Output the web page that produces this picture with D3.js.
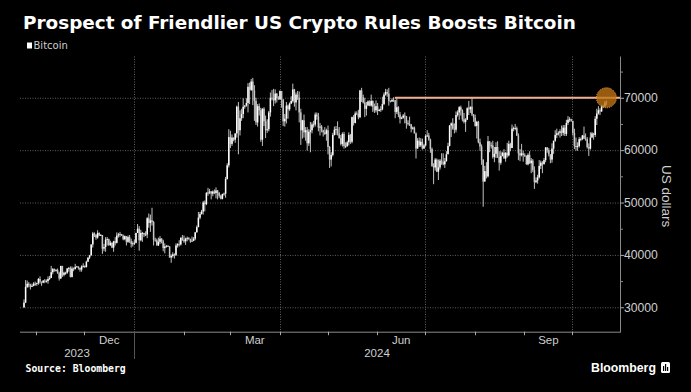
<!DOCTYPE html>
<html>
<head>
<meta charset="utf-8">
<script src="https://cdn.jsdelivr.net/npm/d3@7"></script>
<style>
  html, body { margin: 0; padding: 0; background: #000; }
  svg { display: block; }
</style>
</head>
<body>
<svg id="chart" width="691" height="392"></svg>
<script>
// ---------------- DATA (daily candles, values in thousands of US dollars) ----------------
const startDate = "2023-10-23";   // first candle
const firstOpen = 30.0;           // open of the first candle (later opens = previous close)

const close = [
  // Oct 23-31 2023
  30.9,33.9,34.5,34.2,33.9,34.1,34.5,34.5,34.6,
  // Nov 2023
  35.4,34.9,34.7,35.1,35.0,35.0,35.4,35.6,36.7,37.3,37.1,37.1,36.5,35.5,37.9,36.2,36.6,36.6,37.4,37.5,
  35.8,37.4,37.3,37.7,37.8,37.5,37.2,37.8,37.9,37.7,
  // Dec 2023
  38.7,39.5,39.9,42.0,44.1,43.8,43.3,44.2,43.7,43.8,41.2,41.5,42.9,43.0,41.9,42.3,41.4,42.6,42.3,43.7,
  43.9,44.0,43.7,43.0,43.6,42.5,43.4,42.6,42.1,42.2,42.3,
  // Jan 2024
  44.2,45.0,42.8,44.2,44.2,43.9,43.9,47.0,46.1,46.6,46.3,42.9,42.8,41.8,42.5,43.1,42.6,41.3,41.6,41.7,
  41.6,39.5,39.8,40.1,40.0,41.8,42.1,42.0,43.3,42.9,42.6,
  // Feb 2024
  43.1,43.2,43.0,42.6,42.7,43.1,44.3,45.3,47.1,47.8,48.3,50.0,49.7,51.8,51.9,52.1,51.7,52.1,51.8,52.3,
  51.8,51.3,50.7,51.6,51.7,54.5,57.1,62.5,61.2,
  // Mar 2024
  62.4,62.0,63.2,68.3,63.8,66.1,66.9,68.3,68.5,69.0,72.1,71.5,73.1,71.4,69.4,65.3,68.4,67.6,62.0,67.9,
  65.5,63.8,64.0,67.2,70.0,69.9,69.5,70.8,69.9,69.7,71.3,
  // Apr 2024
  69.7,65.5,66.0,68.5,67.8,68.9,69.4,71.6,69.1,70.6,70.0,67.2,63.8,65.7,63.4,63.8,61.3,63.5,63.8,64.9,
  64.9,66.8,66.4,64.3,64.5,63.8,63.4,63.1,63.8,60.6,
  // May 2024
  58.2,59.1,62.9,63.9,64.0,63.2,62.3,61.2,63.1,60.8,60.8,61.5,62.9,61.6,66.3,65.2,67.0,66.9,66.3,71.4,
  70.1,69.1,67.9,68.5,69.3,68.5,69.4,68.3,67.6,68.4,67.5,
  // Jun 2024
  67.7,67.8,68.8,70.6,71.1,70.8,69.4,69.3,69.6,69.5,67.3,68.2,66.8,66.0,66.2,66.6,66.5,65.2,65.0,64.9,
  64.1,64.3,63.2,60.3,61.8,60.9,61.6,60.3,60.9,62.7,
  // Jul 2024
  62.8,62.0,60.2,57.0,56.7,58.2,55.9,56.7,58.0,57.7,57.3,57.9,59.2,60.8,64.7,65.1,64.1,63.9,66.7,67.2,
  68.2,67.6,65.9,65.4,65.8,68.0,67.8,68.3,66.8,66.2,64.6,
  // Aug 2024
  65.4,61.5,60.7,58.1,54.0,56.0,55.0,61.7,60.9,60.9,58.7,59.3,60.6,58.7,57.6,58.9,59.5,58.4,59.5,59.0,
  61.2,60.4,64.1,64.2,64.2,62.8,59.4,59.0,59.4,59.1,58.9,
  // Sep 2024
  57.3,59.1,57.5,58.0,56.2,53.9,54.2,54.8,57.0,57.6,57.3,58.1,60.5,60.0,59.2,58.2,60.3,61.8,62.9,63.2,
  63.3,63.6,63.3,64.3,63.1,65.2,65.8,65.9,65.6,63.3,
  // Oct 1-21 2024
  60.8,60.6,60.8,62.1,62.1,62.8,62.2,62.1,60.6,60.3,62.4,63.2,62.9,66.0,67.0,67.6,67.4,68.4,68.4,69.0,
  69.2
];

const high = [
  31.5,35.2,35.1,34.8,34.5,34.5,34.8,34.9,34.7,
  35.6,35.9,34.9,35.2,35.4,35.3,35.9,36.0,37.9,37.5,37.4,37.3,37.4,36.8,37.9,37.9,36.8,36.8,37.5,37.7,
  37.8,37.8,37.6,38.3,37.9,37.8,37.6,38.0,38.4,38.0,
  38.9,39.5,40.0,42.0,44.4,44.3,44.0,44.7,44.3,44.0,43.8,42.1,43.4,43.4,43.1,42.7,42.4,42.7,43.4,44.3,
  44.2,44.4,44.0,43.9,43.7,43.5,43.7,43.8,43.1,42.6,42.9,
  44.2,45.9,45.5,44.8,44.4,44.2,44.5,47.2,47.9,47.7,49.0,46.5,43.3,43.1,43.3,43.6,43.2,42.9,42.2,41.9,
  41.9,41.7,40.1,40.5,40.3,42.2,42.2,42.8,43.3,43.8,43.7,
  43.3,43.5,43.4,43.1,43.5,43.4,44.4,45.6,48.2,48.2,48.6,50.3,50.4,52.0,52.8,52.6,52.2,52.3,52.5,52.9,
  52.4,52.0,51.5,51.7,51.9,54.9,57.5,64.0,63.7,
  63.0,62.4,63.2,68.5,69.2,67.6,67.9,69.9,68.6,69.9,72.8,72.9,73.6,73.8,72.4,70.0,68.8,68.9,68.1,68.0,
  68.2,66.6,65.9,67.5,71.0,71.5,71.7,71.6,70.9,70.3,71.4,
  71.3,69.7,66.9,69.2,68.7,69.1,70.3,72.7,71.7,71.0,71.3,71.2,67.9,65.8,66.8,64.4,64.4,64.0,65.4,65.3,
  65.6,67.2,67.2,67.1,65.2,64.8,63.9,64.4,64.1,64.7,
  60.8,59.6,63.3,64.5,64.6,65.5,64.4,62.9,63.4,63.5,61.5,61.8,63.4,63.1,66.4,66.7,67.4,67.4,67.7,71.5,
  71.9,70.6,70.0,69.2,69.5,69.5,70.6,69.5,68.9,69.5,69.0,
  67.9,68.4,70.2,71.0,71.7,71.6,71.9,69.5,69.9,70.1,69.6,69.9,68.4,67.3,66.4,66.9,67.2,66.5,65.7,66.4,
  65.0,64.5,64.5,63.4,62.3,62.4,62.3,62.2,61.2,63.0,
  63.8,63.3,62.2,60.5,57.5,58.5,58.4,58.2,58.3,59.4,59.4,58.5,59.8,61.4,64.8,65.3,66.1,65.1,67.4,67.6,
  68.4,68.5,67.8,67.1,66.1,68.2,69.4,68.3,70.0,66.9,66.8,
  65.6,65.6,62.2,61.1,58.3,57.0,57.7,62.7,61.7,61.5,61.8,60.6,61.5,61.7,59.8,59.8,59.7,60.2,59.6,61.4,
  61.8,61.4,64.9,64.5,65.0,64.5,63.2,60.2,61.2,59.9,59.4,
  59.0,59.4,59.8,58.5,58.3,56.9,54.8,55.3,58.1,58.0,57.9,58.5,60.6,60.6,60.4,59.2,61.3,61.8,63.8,64.1,
  63.6,64.0,64.7,64.8,64.8,65.8,66.5,66.3,66.0,65.6,
  64.1,62.4,61.5,62.5,62.4,62.9,64.5,63.2,62.5,61.3,63.4,63.5,63.3,66.5,67.9,68.4,68.0,68.7,68.6,69.4,
  69.5
];

const low = [
  29.9,30.8,33.7,33.8,33.4,33.9,34.0,34.1,34.1,
  34.3,34.5,34.1,34.6,34.6,34.7,34.5,35.2,35.6,36.3,36.8,36.8,36.4,35.1,35.4,35.8,35.9,36.2,36.4,36.8,
  35.7,35.7,36.9,37.2,37.6,37.2,36.8,36.8,37.6,37.5,
  37.6,38.7,39.2,39.9,41.4,43.4,42.9,43.1,43.6,43.6,40.2,40.7,40.6,41.8,41.7,41.7,41.3,40.6,41.8,42.2,
  43.3,43.4,43.6,42.8,42.8,41.8,42.3,42.3,41.4,41.6,41.9,
  42.2,44.2,40.8,42.6,42.5,43.4,43.6,43.2,45.2,44.4,45.6,41.8,42.5,41.8,41.7,42.1,42.2,40.7,40.3,41.4,
  41.5,39.5,38.5,39.5,39.3,39.8,41.4,41.6,41.8,42.7,42.3,
  41.9,42.6,42.9,42.3,42.5,42.6,42.8,44.3,45.3,46.8,47.7,47.7,48.3,49.5,51.3,51.6,50.6,51.2,51.6,50.8,
  50.6,50.9,50.6,50.6,51.3,50.9,54.4,56.7,60.4,
  60.8,61.7,61.4,62.4,59.2,62.8,65.6,66.1,67.9,68.3,67.2,68.8,71.3,68.6,65.6,64.8,64.5,66.6,61.6,60.8,
  64.6,62.3,63.3,63.6,66.4,69.5,68.4,68.9,69.1,69.6,69.6,
  68.1,64.6,64.5,65.1,66.0,67.5,68.8,69.1,68.3,67.6,69.6,65.3,61.0,62.2,62.4,61.8,59.9,60.8,59.6,63.2,
  64.3,64.5,65.8,63.6,62.8,63.4,62.6,62.9,61.8,59.2,
  56.6,56.9,58.8,62.8,62.9,62.8,62.2,60.9,60.7,60.3,60.4,60.6,60.9,61.2,61.3,64.7,65.1,66.7,65.9,66.1,
  69.2,68.9,66.3,66.6,68.5,68.4,68.3,67.3,67.1,67.2,66.7,
  67.4,67.3,67.6,68.6,70.4,70.2,68.5,69.1,69.2,69.2,66.1,66.9,66.3,65.1,65.9,66.0,65.1,64.1,64.7,64.6,
  63.4,63.9,63.2,58.4,60.3,60.6,60.6,60.1,60.3,60.7,
  62.5,61.8,59.5,56.8,53.5,56.1,55.8,54.3,56.3,57.2,57.1,56.6,57.8,59.3,60.7,62.5,63.9,63.2,63.4,66.4,
  65.8,66.6,65.5,65.1,63.5,65.8,66.7,67.1,66.5,65.4,64.5,
  62.2,61.3,59.9,57.2,49.2,54.0,54.6,54.8,59.6,60.3,58.4,57.7,58.5,58.5,56.1,57.2,58.8,58.4,57.8,58.6,
  58.8,59.8,60.4,63.6,63.8,62.7,58.1,57.9,58.8,57.8,58.7,
  57.2,57.1,57.4,55.6,55.8,52.6,53.7,53.6,54.6,56.4,55.6,57.3,57.7,59.5,58.8,57.5,57.6,59.3,61.6,62.3,
  62.8,62.4,62.7,62.8,62.7,62.7,64.8,65.4,65.4,62.8,
  60.2,59.9,59.9,60.5,61.7,61.9,62.1,61.8,60.3,58.9,60.1,62.4,62.0,62.5,64.8,66.8,66.7,67.3,68.1,68.2,
  68.6
];

const yTicks = [30000, 40000, 50000, 60000, 70000];
const yMinorTicks = [35000, 45000, 55000, 65000, 75000];
const monthLabelNames = ["Dec", "Mar", "Jun", "Sep"];
const monthLabelMonths = ["2023-12", "2024-03", "2024-06", "2024-09"];
const yearLabels = ["2023", "2024"];
const quarterGridDates = ["2024-01-01", "2024-04-01", "2024-07-01", "2024-10-01"];
const resistanceLevel = 70000;
const resistanceStart = "2024-06-12";

// ---------------- DRAWING ----------------
const parseDay = d3.timeParse("%Y-%m-%d");
const parseMonth = d3.timeParse("%Y-%m");
const svg = d3.select("#chart");
svg.append("rect").attr("width", 691).attr("height", 392).attr("fill", "#000");

const x = d3.scaleTime()
  .domain([new Date(2023, 9, 21, 18), new Date(2024, 9, 30, 18)])
  .range([20, 620]);
const y = d3.scaleLinear().domain([25340, 77880]).range([331.7, 56.5]);
const [plotTop, plotBottom] = [y.range()[1], y.range()[0]];
const [plotLeft, plotRight] = x.range();

const d0 = parseDay(startDate);
const candles = close.map((c, i) => {
  const date = d3.timeDay.offset(d0, i);
  const open = i === 0 ? firstOpen : close[i - 1];
  return { date, open: open * 1000, close: c * 1000, high: high[i] * 1000, low: low[i] * 1000 };
});
const cx = d => x(d3.timeHour.offset(d.date, 30));

const gridStyle = sel => sel.attr("stroke", "#5e5e5e").attr("stroke-width", 1).attr("stroke-dasharray", "1,1.5");

// horizontal gridlines
svg.append("g").selectAll("line").data(yTicks).join("line")
  .attr("x1", plotLeft).attr("x2", plotRight)
  .attr("y1", d => y(d) + 0.5).attr("y2", d => y(d) + 0.5)
  .call(gridStyle);

// vertical gridlines (quarters)
svg.append("g").selectAll("line").data(quarterGridDates.map(parseDay)).join("line")
  .attr("x1", d => Math.round(x(d)) + 0.5).attr("x2", d => Math.round(x(d)) + 0.5)
  .attr("y1", plotTop).attr("y2", plotBottom)
  .call(gridStyle);

// x axis
const xAxisG = svg.append("g");
xAxisG.append("line").attr("x1", plotLeft).attr("x2", plotRight)
  .attr("y1", plotBottom + 0.5).attr("y2", plotBottom + 0.5)
  .attr("stroke", "#8a8a8a").attr("stroke-width", 1);
const monthTicks = d3.timeMonth.range(x.domain()[0], x.domain()[1]).filter(d => x(d) > plotLeft && x(d) < plotRight);
xAxisG.selectAll(".mt").data(monthTicks).join("line")
  .attr("x1", d => Math.round(x(d)) + 0.5).attr("x2", d => Math.round(x(d)) + 0.5)
  .attr("y1", plotBottom).attr("y2", plotBottom + 3.5)
  .attr("stroke", "#aaa");
xAxisG.selectAll(".ml").data(monthLabelMonths.map(parseMonth)).join("text")
  .attr("x", d => (x(d) + x(d3.timeMonth.offset(d, 1))) / 2)
  .attr("y", 344)
  .attr("text-anchor", "middle")
  .attr("font-family", "Liberation Sans, Arial, sans-serif")
  .attr("font-size", 11.5).attr("fill", "#cfcfcf")
  .text((d, i) => monthLabelNames[i]);
const jan1 = parseDay("2024-01-01");
xAxisG.append("line")
  .attr("x1", Math.round(x(jan1)) + 0.5).attr("x2", Math.round(x(jan1)) + 0.5)
  .attr("y1", plotBottom).attr("y2", 359)
  .attr("stroke", "#555");
const yearCenters = [(plotLeft + x(jan1)) / 2, (x(jan1) + plotRight) / 2];
xAxisG.selectAll(".yl").data(yearLabels).join("text")
  .attr("x", (d, i) => yearCenters[i]).attr("y", 357)
  .attr("text-anchor", "middle")
  .attr("font-family", "Liberation Sans, Arial, sans-serif")
  .attr("font-size", 11.5).attr("fill", "#cfcfcf")
  .text(d => d);

// y axis
const yAxisG = svg.append("g");
yAxisG.append("line").attr("x1", plotRight + 0.5).attr("x2", plotRight + 0.5)
  .attr("y1", plotTop).attr("y2", plotBottom + 1)
  .attr("stroke", "#8a8a8a");
yAxisG.selectAll(".yt").data(yTicks).join("line")
  .attr("x1", plotRight).attr("x2", plotRight + 4)
  .attr("y1", d => y(d) + 0.5).attr("y2", d => y(d) + 0.5).attr("stroke", "#aaa");
yAxisG.selectAll(".ymt").data(yMinorTicks).join("line")
  .attr("x1", plotRight).attr("x2", plotRight + 3)
  .attr("y1", d => y(d) + 0.5).attr("y2", d => y(d) + 0.5).attr("stroke", "#888");
yAxisG.selectAll(".yl").data(yTicks).join("text")
  .attr("x", plotRight + 4).attr("y", d => y(d) + 4.3)
  .attr("font-family", "Liberation Sans, Arial, sans-serif")
  .attr("font-size", 12.2).attr("fill", "#cfcfcf")
  .text(d => d3.format("d")(d));
svg.append("text")
  .attr("transform", `translate(662, ${(plotTop + plotBottom) / 2 + 2}) rotate(90)`)
  .attr("text-anchor", "middle")
  .attr("font-family", "Liberation Sans, Arial, sans-serif")
  .attr("font-size", 13.5).attr("fill", "#cfcfcf")
  .text("US dollars");

// candles
const cg = svg.append("g");
cg.selectAll(".wick").data(candles).join("line")
  .attr("x1", cx).attr("x2", cx)
  .attr("y1", d => y(d.high)).attr("y2", d => y(d.low))
  .attr("stroke", "#d8d8d8").attr("stroke-width", 0.9);
cg.selectAll(".body").data(candles).join("rect")
  .attr("x", d => cx(d) - 0.75).attr("width", 1.5)
  .attr("y", d => y(Math.max(d.open, d.close)))
  .attr("height", d => Math.max(0.8, Math.abs(y(d.open) - y(d.close))))
  .attr("fill", d => d.close >= d.open ? "#ffffff" : "#c8c8c8");

// resistance line + highlight circle
const last = candles[candles.length - 1];
svg.append("line")
  .attr("x1", x(parseDay(resistanceStart))).attr("x2", plotRight)
  .attr("y1", y(resistanceLevel)).attr("y2", y(resistanceLevel))
  .attr("stroke", "#f2b08e").attr("stroke-width", 2.2);
svg.append("circle")
  .attr("cx", cx(last)).attr("cy", y(resistanceLevel)).attr("r", 10)
  .attr("fill", "#c27414").attr("fill-opacity", 0.78)
  .attr("stroke", "#f0a640").attr("stroke-width", 1).attr("stroke-dasharray", "1,1");

// title & legend
svg.append("text").attr("x", 23).attr("y", 28.5)
  .attr("font-family", "DejaVu Sans, sans-serif").attr("font-weight", "bold")
  .attr("font-size", 18.4).attr("fill", "#fff")
  .text("Prospect of Friendlier US Crypto Rules Boosts Bitcoin");
svg.append("rect").attr("x", 27).attr("y", 42.5).attr("width", 5).attr("height", 6).attr("fill", "#fff");
svg.append("text").attr("x", 33.5).attr("y", 48.6)
  .attr("font-family", "DejaVu Sans, sans-serif").attr("font-size", 10).attr("fill", "#cfcfcf")
  .text("Bitcoin");

// footer
svg.append("text").attr("x", 25.5).attr("y", 371.5)
  .attr("font-family", "DejaVu Sans Mono, monospace").attr("font-weight", "bold")
  .attr("font-size", 9.8).attr("fill", "#fff")
  .text("Source: Bloomberg");
svg.append("text").attr("x", 591).attr("y", 372)
  .attr("font-family", "Liberation Sans, Arial, sans-serif").attr("font-weight", "bold")
  .attr("font-size", 12.3).attr("fill", "#fff")
  .text("Bloomberg");
const logo = svg.append("g").attr("transform", "translate(661,362)");
logo.append("rect").attr("width", 9).attr("height", 11).attr("rx", 1.5).attr("fill", "#fff");
[[2, 4, 1.2, 5], [4, 2, 1.2, 7], [6, 5, 1.2, 4]].forEach(([bx, by, bw, bh]) =>
  logo.append("rect").attr("x", bx).attr("y", by).attr("width", bw).attr("height", bh).attr("fill", "#000"));
</script>
</body>
</html>
